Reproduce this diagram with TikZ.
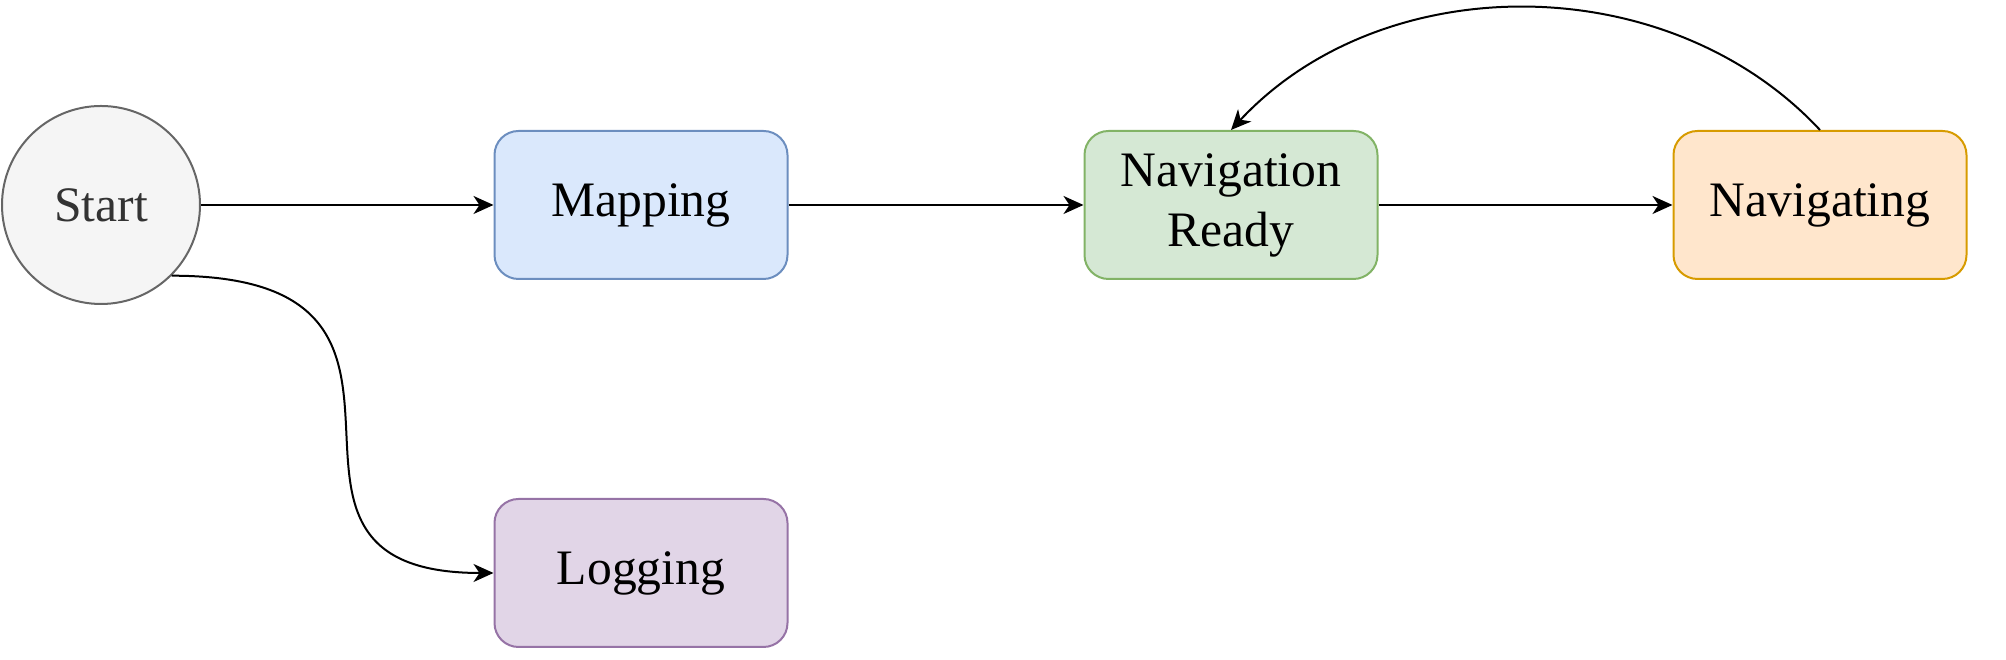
\documentclass[tikz,border=0pt]{standalone}
\usepackage{fontspec}
\setmainfont{Liberation Serif}
\usetikzlibrary{arrows.meta}
\definecolor{startfill}{HTML}{F5F5F5}
\definecolor{startline}{HTML}{666666}
\definecolor{starttext}{HTML}{333333}
\definecolor{mapfill}{HTML}{DAE8FC}
\definecolor{mapline}{HTML}{6C8EBF}
\definecolor{readyfill}{HTML}{D5E8D4}
\definecolor{readyline}{HTML}{82B366}
\definecolor{navfill}{HTML}{FFE6CC}
\definecolor{navline}{HTML}{D79B00}
\definecolor{logfill}{HTML}{E1D5E7}
\definecolor{logline}{HTML}{9673A6}
\begin{document}
\begin{tikzpicture}[x=0.25pt,y=-0.25pt,
  statebox/.style={draw=#1line,fill=#1fill,rounded corners=6pt,line width=0.5pt,minimum width=73.25pt,minimum height=37pt,align=center,inner sep=0pt,font=\fontsize{12.4}{15}\selectfont},
  flow/.style={line width=0.5pt,-{Stealth[length=5pt,width=4.5pt,inset=1.5pt]}}]
\useasboundingbox (0,0) rectangle (2006,660);
\node[circle,draw=startline,fill=startfill,line width=0.5pt,minimum size=49.5pt,inner sep=0pt,text=starttext,font=\fontsize{12.4}{15}\selectfont](start) at (101,205) {Start};
\foreach \nm/\xc/\yc/\tx in {map/641/205/Mapping,ready/1231/205/Navigation\\Ready,nav/1820/205/Navigating,log/641/573/Logging}{\node[statebox=\nm](\nm) at (\xc,\yc) {\tx};}
\draw[flow](start)--(map);
\draw[flow](map)--(ready);
\draw[flow](ready)--(nav);
\draw[flow](nav.north) to[out=133,in=47,looseness=0.97] (ready.north);
\draw[flow](start.-45) .. controls +(320,0) and +(-280,0) .. (log.west);
\end{tikzpicture}
\end{document}
